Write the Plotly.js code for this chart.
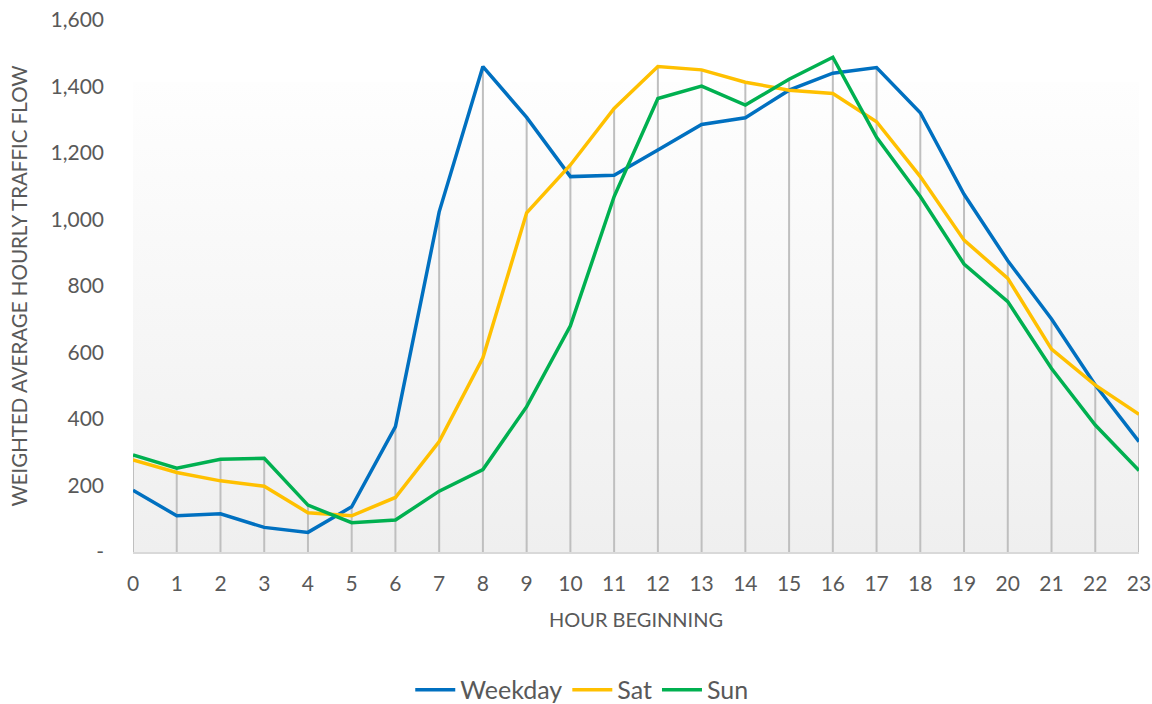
<!DOCTYPE html>
<html>
<head>
<meta charset="utf-8">
<script src="https://cdn.plot.ly/plotly-3.0.1.min.js"></script>
<style>html,body{margin:0;padding:0;background:#fff;}#chart{width:1152px;height:704px;}</style>
</head>
<body>
<div id="chart"></div>
<script>
const hours = [0,1,2,3,4,5,6,7,8,9,10,11,12,13,14,15,16,17,18,19,20,21,22,23];
const weekday = [186,109,115,74,59,136,377,1023,1460,1307,1129,1133,1209,1286,1306,1389,1440,1457,1321,1076,876,701,502,332];
const sat = [277,239,214,198,118,109,164,332,584,1020,1164,1334,1460,1450,1413,1389,1379,1294,1129,938,823,610,502,414];
const sun = [292,252,279,282,141,88,96,183,248,437,680,1069,1364,1401,1344,1422,1488,1247,1069,866,753,552,382,245];
const seriesNames = ['Weekday','Sat','Sun'];
const yTickVals = [0,200,400,600,800,1000,1200,1400,1600];
const yTickText = ['-','200','400','600','800','1,000','1,200','1,400','1,600'];
const xTitle = 'HOUR BEGINNING';
const yTitle = 'WEIGHTED AVERAGE HOURLY TRAFFIC FLOW';

// drop lines: from highest series value at each hour down to the axis
const dropX = [], dropY = [];
hours.forEach((h, i) => {
  const m = Math.max(weekday[i], sat[i], sun[i]);
  dropX.push(h, h, null);
  dropY.push(0, m, null);
});

const FONT = 'Lato, "Open Sans", sans-serif';
const txt = '#595959';

const traces = [
  {x: dropX, y: dropY, mode: 'lines', line: {color: '#BFBFBF', width: 2}, showlegend: false, hoverinfo: 'skip'},
  {x: hours, y: weekday, name: seriesNames[0], mode: 'lines', line: {color: '#0070C0', width: 3.5}},
  {x: hours, y: sat, name: seriesNames[1], mode: 'lines', line: {color: '#FFC000', width: 3.5}},
  {x: hours, y: sun, name: seriesNames[2], mode: 'lines', line: {color: '#00B050', width: 3.5}}
];

const grad = 'data:image/svg+xml;utf8,' + encodeURIComponent(
  '<svg xmlns="http://www.w3.org/2000/svg" width="100" height="100" preserveAspectRatio="none">' +
  '<defs><linearGradient id="g" x1="0" y1="0" x2="0" y2="1">' +
  '<stop offset="0" stop-color="#FEFEFE"/><stop offset="1" stop-color="#EFEFEF"/></linearGradient></defs>' +
  '<rect width="100" height="100" fill="url(#g)"/></svg>');

const layout = {
  width: 1152, height: 704,
  margin: {l: 133, r: 13, t: 20, b: 152},
  paper_bgcolor: '#FFFFFF',
  plot_bgcolor: 'rgba(0,0,0,0)',
  font: {family: FONT, color: txt},
  showlegend: true,
  legend: {
    orientation: 'h', xref: 'container', x: 0.505, xanchor: 'center',
    yref: 'container', y: 0.02, yanchor: 'middle',
    font: {size: 25, color: txt, family: FONT}, itemwidth: 40, tracegroupgap: 0
  },
  xaxis: {
    range: [0, 23], tickvals: hours, ticktext: hours.map(String),
    showgrid: false, zeroline: false, showline: true, linecolor: '#D9D9D9', linewidth: 2,
    ticks: '', ticklabelstandoff: 12,
    tickfont: {size: 21, color: txt, family: FONT},
    title: {text: xTitle, font: {size: 20, color: txt, family: FONT}, standoff: 19}
  },
  yaxis: {
    range: [0, 1600], tickvals: yTickVals, ticktext: yTickText,
    showgrid: false, zeroline: false, showline: false,
    ticks: '', ticklabelstandoff: 28,
    tickfont: {size: 21, color: txt, family: FONT},
    title: {text: yTitle, font: {size: 20.5, color: txt, family: FONT}, standoff: 17}
  },
  images: [{
    source: grad, xref: 'paper', yref: 'paper', x: 0, y: 0.8835, sizex: 1, sizey: 0.8835,
    xanchor: 'left', yanchor: 'top', sizing: 'stretch', layer: 'below'
  }]
};

Plotly.newPlot('chart', traces, layout, {displayModeBar: false, staticPlot: true});
</script>
</body>
</html>
